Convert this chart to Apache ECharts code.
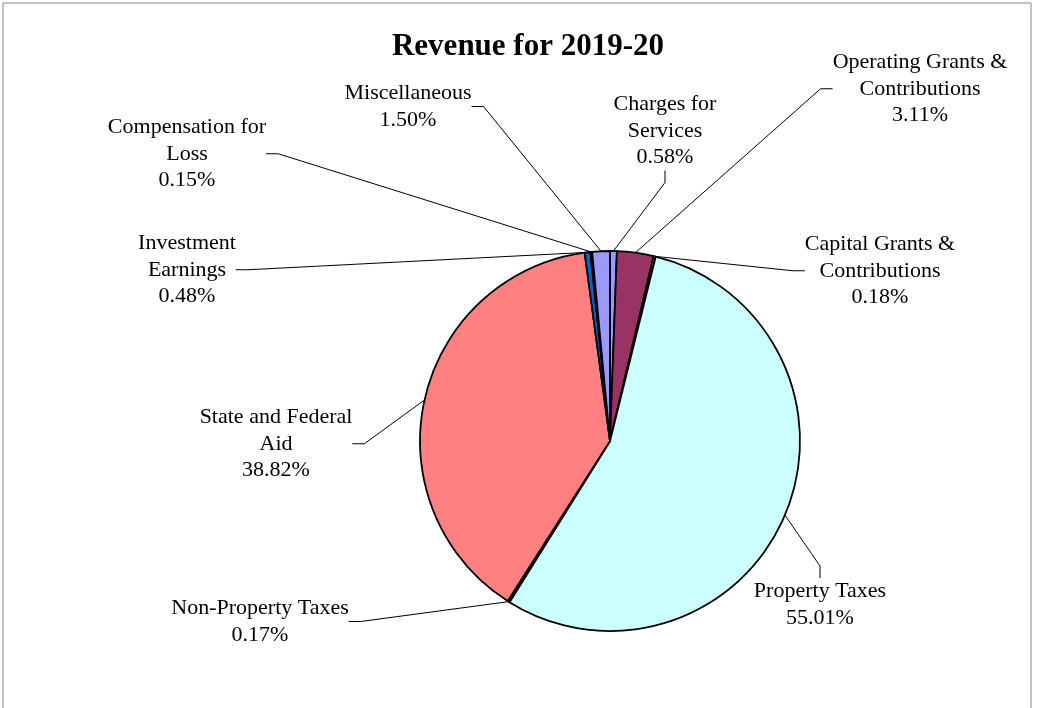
<!DOCTYPE html>
<html>
<head>
<meta charset="utf-8">
<script src="https://cdn.jsdelivr.net/npm/echarts@6/dist/echarts.min.js"></script>
<style>
  html, body { margin: 0; padding: 0; background: #fff; }
  #main { width: 1038px; height: 708px; }
</style>
</head>
<body>
<div id="main"></div>
<script>
// 数据
var categories = [
  'Charges for\nServices',
  'Operating Grants &\nContributions',
  'Capital Grants &\nContributions',
  'Property Taxes',
  'Non-Property Taxes',
  'State and Federal\nAid',
  'Investment\nEarnings',
  'Compensation for\nLoss',
  'Miscellaneous'
];
var shares = [0.58, 3.11, 0.18, 55.01, 0.17, 38.82, 0.48, 0.15, 1.50];
var sliceColors = ['#9999FF', '#993366', '#FFFFCC', '#CCFFFF', '#660066', '#FF8080', '#0066CC', '#CCCCFF', '#9999FF'];

// label anchor (center x, top y)
var labelPos = [
  [665, 91], [920, 49], [880, 231], [820, 578], [260, 595],
  [276, 404], [187, 230], [187, 114], [408, 80]
];

var myChart = echarts.init(document.getElementById('main'));
myChart.setOption({
  animation: false,
  backgroundColor: '#fff',
  title: {
    text: 'Revenue for 2019-20',
    left: 523,
    top: 26,
    textAlign: 'center',
    textStyle: {
      fontFamily: 'Liberation Serif',
      fontWeight: 'bold',
      fontSize: 31,
      color: '#000'
    }
  },
  graphic: [{
    type: 'rect',
    shape: { x: 3, y: 3, width: 1028, height: 720 },
    style: { fill: 'none', stroke: '#888', lineWidth: 1 },
    silent: true
  }],
  series: [{
    type: 'pie',
    center: [610, 441],
    radius: 190,
    startAngle: 90,
    clockwise: true,
    minAngle: 0,
    avoidLabelOverlap: false,
    data: categories.map(function (c, i) {
      return { name: c, value: shares[i], itemStyle: { color: sliceColors[i] } };
    }),
    itemStyle: { borderColor: '#000', borderWidth: 1.8 },
    label: {
      show: true,
      position: 'outside',
      formatter: function (p) { return p.name + '\n' + shares[p.dataIndex].toFixed(2) + '%'; },
      fontFamily: 'Liberation Serif',
      fontSize: 22,
      lineHeight: 26.5,
      color: '#000',
      align: 'center'
    },
    labelLine: {
      show: true,
      length: 20,
      length2: 12,
      lineStyle: { color: '#000', width: 1 }
    },
    labelLayout: function (p) {
      var pos = labelPos[p.dataIndex];
      return {
        x: pos[0],
        y: pos[1],
        align: 'center',
        verticalAlign: 'top'
      };
    },
    emphasis: { disabled: true }
  }]
});
</script>
</body>
</html>
